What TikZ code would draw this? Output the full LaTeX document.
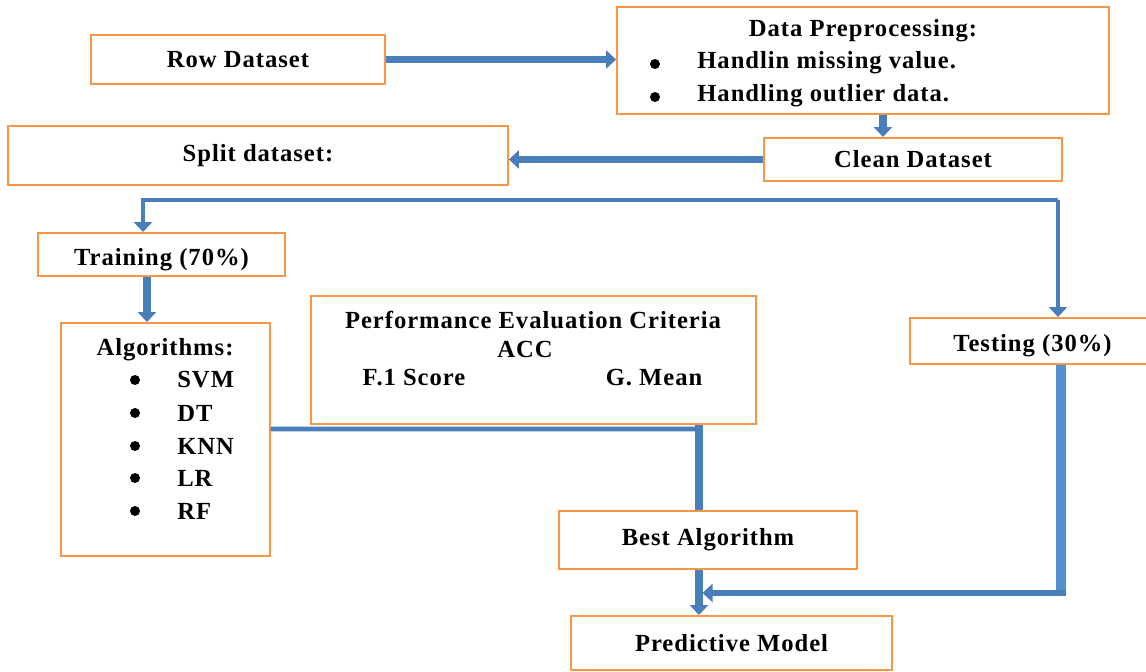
\documentclass[tikz,border=0pt]{standalone}
\usepackage{fontspec}
\setmainfont[LetterSpace=4]{Liberation Serif}
\usetikzlibrary{arrows.meta,positioning,calc}
\definecolor{boxorange}{HTML}{F79646}
\definecolor{flowblue}{HTML}{4A7EBB}
\definecolor{testblue}{HTML}{5590CC}
\tikzset{
  box/.style={
    draw=boxorange,
    line width=1.1pt,
    rectangle,
    inner sep=0pt,
    align=center,
    font=\bfseries\fontsize{14}{16}\selectfont
  },
  lowtext/.style={
    text height=12pt,
    text depth=0pt
  },
  txt/.style={
    inner sep=0pt,
    font=\bfseries\fontsize{14}{16}\selectfont
  },
  dot/.style={
    circle,
    fill=black,
    inner sep=0pt,
    minimum size=0.2cm
  },
  line/.style={
    draw=flowblue,
    line width=4pt
  },
  arrow/.style={
    line,
    -{Triangle[length=2mm,width=3.6mm]}
  }
}

\begin{document}
\begin{tikzpicture}[x=0.02cm,y=-0.02cm]
\useasboundingbox (0,0) rectangle (1146,672);

% boxes
\node[box, minimum width=5.88cm, minimum height=0.98cm] (raw) at (238,59.5) {Row Dataset};
\node[box, minimum width=9.84cm, minimum height=2.14cm] (prep) at (863,60.5) {};
\node[box, minimum width=5.96cm, minimum height=0.86cm] (clean) at (913,159.5) {Clean Dataset};
\node[box, minimum width=10cm, minimum height=1.18cm] (split) at (258,155.5) {Split dataset:};
\node[box, lowtext, minimum width=4.94cm, minimum height=0.86cm] (train) at (161.5,254.5) {Training (70\%)};
\node[box, minimum width=4.18cm, minimum height=4.66cm] (algo) at (165.5,439.5) {};
\node[box, minimum width=8.9cm, minimum height=2.56cm] (perf) at (533.5,360) {};
\node[box, lowtext, minimum width=5.2cm, minimum height=0.92cm] (test) at (1040,341) {Testing (30\%)\hspace{0.3cm}};
\node[box, minimum width=5.96cm, minimum height=1.16cm] (best) at (708,540) {Best Algorithm};
\node[box, minimum width=6.42cm, minimum height=1.08cm] (pred) at (731.5,643) {Predictive Model};

% preprocessing steps
\node[txt] (prepTitle) at (863,31) {Data Preprocessing:};
\node[dot] (dotMiss) at (655,64) {};
\node[txt, anchor=west] (miss) at (697,63) {Handlin missing value.};
\node[dot] (dotOut) at (655,97) {};
\node[txt, anchor=west] (outlier) at (697,96) {Handling outlier data.};

% algorithm list
\node[txt] (algoTitle) at (165,350) {Algorithms:};
\foreach \y/\name in {380/SVM, 413/DT, 446/KNN, 478/LR, 511/RF} {
  \node[dot] (dot\name) at (135,\y) {};
  \node[txt, anchor=west] (\name) at (177,\y) {\name};
}

% evaluation criteria
\node[txt] (perfTitle) at (533,320) {Performance Evaluation Criteria};
\node[txt] (acc) at (525,349) {ACC};
\node[txt] (fscore) at (414,378) {F.1 Score};
\node[txt] (gmean) at (654,378) {G. Mean};

% flow
\coordinate (splitL) at (143,200);
\coordinate (splitR) at (1058,200);
\coordinate (merge) at (699,429);
\coordinate (back) at (1061,593);

\draw[arrow] (raw.east) -- (raw.east -| prep.west);
\draw[arrow] ([xshift=0.4cm]prep.south) -- ([xshift=0.4cm]prep.south |- clean.north);
\draw[arrow] (clean.west) -- (clean.west -| split.east);

\draw[arrow, line width=2.8pt] (splitR) -- (splitL) -- (splitL |- train.north);
\draw[arrow, line width=2.8pt] (splitR) -- (splitR |- test.north);

\draw[arrow] ([xshift=-0.29cm]train.south) -- ([xshift=-0.29cm]train.south |- algo.north);

\draw[line, line width=2.8pt] ([yshift=0.21cm]algo.east) -- (merge);
\draw[line, line width=4.5pt] (merge |- perf.south) -- (merge |- best.north);
\draw[arrow] (merge |- best.south) -- (merge |- pred.north);

\draw[line, draw=testblue, line width=6pt] (back |- test.south) -- ([yshift=-1.5pt]back);
\draw[arrow, line width=3pt, shorten >=2pt] ([xshift=3pt]back) -- (merge |- back);

\end{tikzpicture}
\end{document}
